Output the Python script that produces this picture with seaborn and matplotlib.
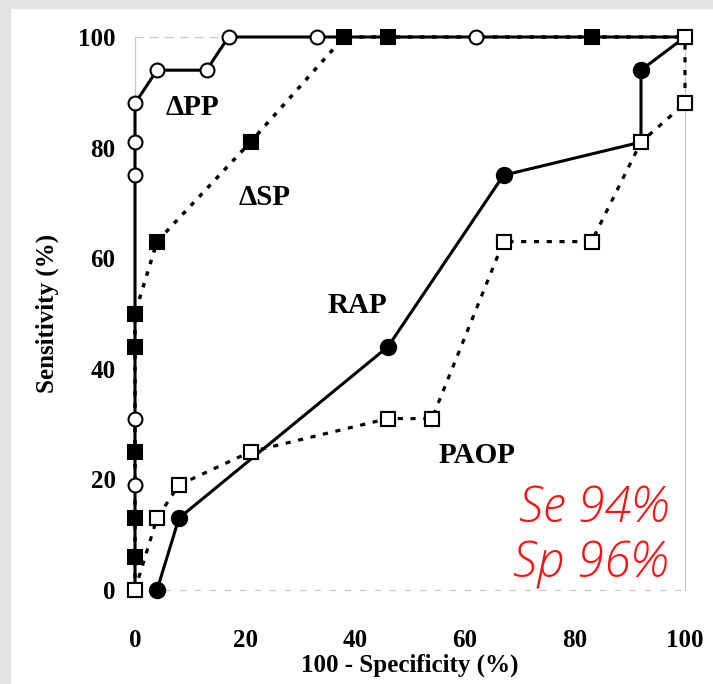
import matplotlib
matplotlib.use("Agg")
import matplotlib.pyplot as plt
import seaborn as sns

sns.set_style("white")
plt.rcParams['font.family'] = ['Liberation Serif', 'DejaVu Serif']
plt.rcParams['text.color'] = 'black'
plt.rcParams['axes.labelcolor'] = 'black'
plt.rcParams['xtick.color'] = 'black'
plt.rcParams['ytick.color'] = 'black'

# ---- data ----
dpp_x = [0, 0, 0, 0, 0, 0, 4, 13, 17, 33, 62, 100]
dpp_y = [0, 19, 31, 75, 81, 88, 94, 94, 100, 100, 100, 100]
dpp_marks = [1, 2, 3, 4, 5, 6, 7, 8, 9, 10]

dsp_x = [0, 0, 0, 0, 0, 0, 4, 21, 38, 46, 83, 100]
dsp_y = [0, 6, 13, 25, 44, 50, 63, 81, 100, 100, 100, 100]
dsp_marks = [1, 2, 3, 4, 5, 6, 7, 8, 9, 10]

rap_x = [4, 8, 46, 67, 92, 92, 100]
rap_y = [0, 13, 44, 75, 81, 94, 100]
rap_marks = [0, 1, 2, 3, 5]

paop_x = [0, 4, 8, 21, 46, 54, 67, 83, 92, 100, 100]
paop_y = [0, 13, 19, 25, 31, 31, 63, 63, 81, 88, 100]

ticks = [0, 20, 40, 60, 80, 100]
series_labels = {"dpp": "ΔPP", "dsp": "ΔSP", "rap": "RAP", "paop": "PAOP"}
se_text = "Se 94%"
sp_text = "Sp 96%"

W, H = 713, 684
fig = plt.figure(figsize=(W / 100, H / 100), dpi=100)
fig.patch.set_facecolor("white")
# light gray border at top and left
fig.add_artist(plt.Rectangle((0, 1 - 8 / H), 1, 8 / H, transform=fig.transFigure,
                             color="#e3e3e3", zorder=0))
fig.add_artist(plt.Rectangle((0, 0), 10 / W, 1, transform=fig.transFigure,
                             color="#e3e3e3", zorder=0))

ax = fig.add_axes([135 / W, 1 - 590 / H, 550 / W, 553 / H])
ax.set_facecolor("none")

def draw(x, y, ls, lw, marker, ms, mfc, marks, z):
    sns.lineplot(x=x, y=y, sort=False, estimator=None, ax=ax, color="black",
                 linestyle=ls, linewidth=lw, marker=marker, markersize=ms,
                 markerfacecolor=mfc, markeredgecolor="black", markeredgewidth=1.5,
                 markevery=marks, zorder=z)

draw(dsp_x, dsp_y, (0, (1.3, 2.2)), 2.5, "s", 9.5, "black", dsp_marks, 3)
draw(paop_x, paop_y, (0, (1.6, 2.4)), 2.3, "s", 10, "white", list(range(len(paop_x))), 3)
draw(rap_x, rap_y, "-", 2.2, "o", 11, "black", rap_marks, 4)
draw(dpp_x, dpp_y, "-", 2.2, "o", 10, "white", dpp_marks, 5)
# redraw PAOP markers on top of RAP line
sns.scatterplot(x=paop_x, y=paop_y, ax=ax, marker="s", s=100, facecolor="white",
                edgecolor="black", linewidth=1.5, zorder=6)
if ax.get_legend() is not None:
    ax.get_legend().remove()

for ln in ax.get_lines():
    ln.set_clip_on(False)
for c in ax.collections:
    c.set_clip_on(False)

ax.set_xlim(0, 100)
ax.set_ylim(0, 100)
ax.set_xticks(ticks)
ax.set_yticks(ticks)
ax.set_xticklabels([str(t) for t in ticks], fontsize=18, fontweight="bold")
ax.set_yticklabels([str(t) for t in ticks], fontsize=18, fontweight="bold")
ax.tick_params(axis="x", length=0, pad=28)
ax.tick_params(axis="y", length=0, pad=14)
ax.set_xlabel("100 - Specificity (%)", fontsize=18, fontweight="bold", labelpad=1)
ax.set_ylabel("Sensitivity (%)", fontsize=18, fontweight="bold", labelpad=14)

for s in ["left", "right", "top", "bottom"]:
    ax.spines[s].set_color("#c8c8c8")
    ax.spines[s].set_linewidth(0.9)
ax.spines["top"].set_linestyle((0, (6, 6)))
ax.spines["bottom"].set_linestyle((0, (4, 8)))

lab_kw = dict(fontsize=21, fontweight="bold", ha="center", va="center")
ax.text(10.4, 87.3, series_labels["dpp"], **lab_kw)
ax.text(23.6, 71.0, series_labels["dsp"], **lab_kw)
ax.text(40.4, 51.4, series_labels["rap"], **lab_kw)
ax.text(62.2, 24.4, series_labels["paop"], **lab_kw)

red_kw = dict(fontsize=35, color="#ff1010", style="italic", ha="right",
              va="baseline", family=["Open Sans", "DejaVu Sans"], fontweight="light")
ax.text(96.9, 12.3, se_text, **red_kw)
ax.text(96.9, 2.2, sp_text, **red_kw)

fig.savefig("out.png", dpi=100)
